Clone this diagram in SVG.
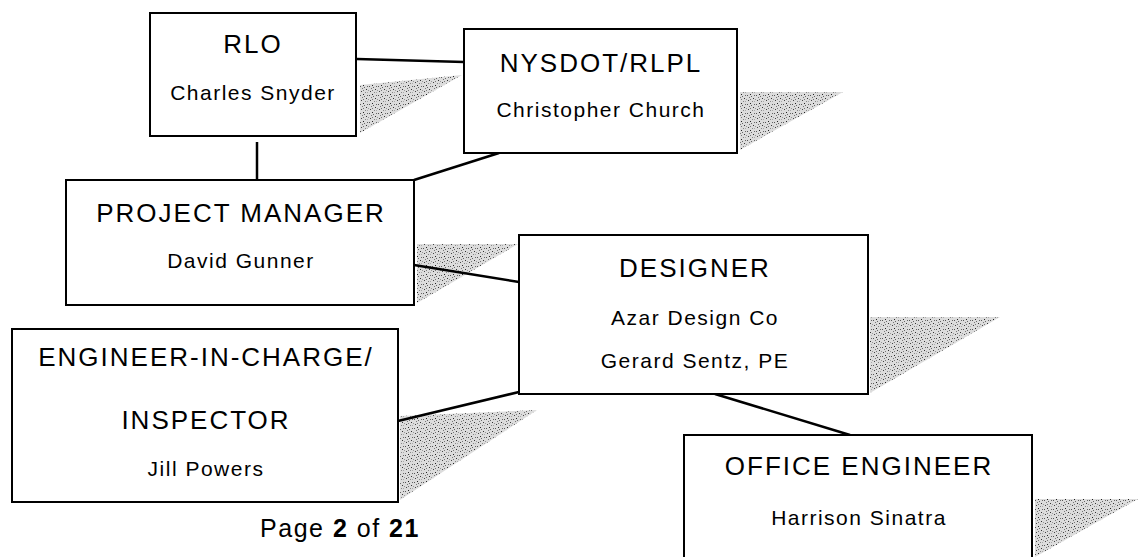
<svg xmlns="http://www.w3.org/2000/svg" width="1144" height="557" viewBox="0 0 1144 557">
<style>
.box{fill:#fff;stroke:#000;stroke-width:2}
.conn{stroke:#000;stroke-width:2.5;fill:none}
.sh{fill:url(#stip)}
.t{font-family:"Liberation Sans",Arial,sans-serif;font-size:26px;letter-spacing:2px;fill:#000;text-anchor:middle}
.s{font-family:"Liberation Sans",Arial,sans-serif;font-size:21px;letter-spacing:1.5px;fill:#000;text-anchor:middle}
</style>
<defs>
<pattern id="stip" width="9" height="9" patternUnits="userSpaceOnUse">
<rect x="0" y="0" width="9" height="9" fill="#dcdcdc"/>
<rect x="1" y="1" width="1" height="1" fill="#444"/>
<rect x="5" y="2" width="1" height="1" fill="#888"/>
<rect x="3" y="4" width="1" height="1" fill="#222"/>
<rect x="7" y="5" width="1" height="1" fill="#666"/>
<rect x="2" y="7" width="1" height="1" fill="#777"/>
<rect x="6" y="8" width="1" height="1" fill="#333"/>
<rect x="8" y="0" width="1" height="1" fill="#999"/>
<rect x="0" y="5" width="1" height="1" fill="#555"/>
<rect x="4" y="6" width="1" height="1" fill="#666"/>
<rect x="7" y="2" width="1" height="1" fill="#aaa"/>
<rect x="3" y="0" width="1" height="1" fill="#777"/>
</pattern>
</defs>
<rect width="1144" height="557" fill="#fff"/>
<g id="shadows">
<polygon class="sh" points="360,85 462,75 360,133"/>
<polygon class="sh" points="740,92 843,92 740,150"/>
<polygon class="sh" points="417,244 518,244 417,303"/>
<polygon class="sh" points="870,317 1000,317 870,393"/>
<polygon class="sh" points="400,416 537,410 400,500"/>
<polygon class="sh" points="1035,499 1138,499 1035,557"/>
</g>
<g id="connectors">
<line class="conn" x1="357" y1="59" x2="464" y2="62"/>
<line class="conn" x1="257" y1="142" x2="257" y2="180"/>
<line class="conn" x1="499" y1="153" x2="414" y2="180"/>
<line class="conn" x1="414" y1="265" x2="519" y2="282"/>
<line class="conn" x1="398" y1="421" x2="519" y2="392"/>
<line class="conn" x1="715" y1="394" x2="850" y2="435"/>
</g>
<g id="rlo">
<rect class="box" x="150" y="13" width="206" height="123"/>
<text class="t" x="253" y="53">RLO</text>
<text class="s" x="253" y="100">Charles Snyder</text>
</g>
<g id="nysdot">
<rect class="box" x="464" y="29" width="273" height="124"/>
<text class="t" x="601" y="72">NYSDOT/RLPL</text>
<text class="s" x="601" y="117">Christopher Church</text>
</g>
<g id="pm">
<rect class="box" x="66" y="180" width="348" height="125"/>
<text class="t" x="241" y="222">PROJECT MANAGER</text>
<text class="s" x="241" y="268">David Gunner</text>
</g>
<g id="designer">
<rect class="box" x="519" y="235" width="349" height="159"/>
<text class="t" x="695" y="277">DESIGNER</text>
<text class="s" x="695" y="325">Azar Design Co</text>
<text class="s" x="695" y="368">Gerard Sentz, PE</text>
</g>
<g id="engineer">
<rect class="box" x="12" y="329" width="386" height="173"/>
<text class="t" x="206" y="366">ENGINEER-IN-CHARGE/</text>
<text class="t" x="206" y="429">INSPECTOR</text>
<text class="s" x="206" y="476">Jill Powers</text>
</g>
<g id="office">
<rect class="box" x="684" y="435" width="348" height="130"/>
<text class="t" x="859" y="475">OFFICE ENGINEER</text>
<text class="s" x="859" y="525">Harrison Sinatra</text>
</g>
<text class="t" x="340" y="537" style="font-size:25px;letter-spacing:1.5px">Page <tspan font-weight="bold">2</tspan> of <tspan font-weight="bold">21</tspan></text>
</svg>
